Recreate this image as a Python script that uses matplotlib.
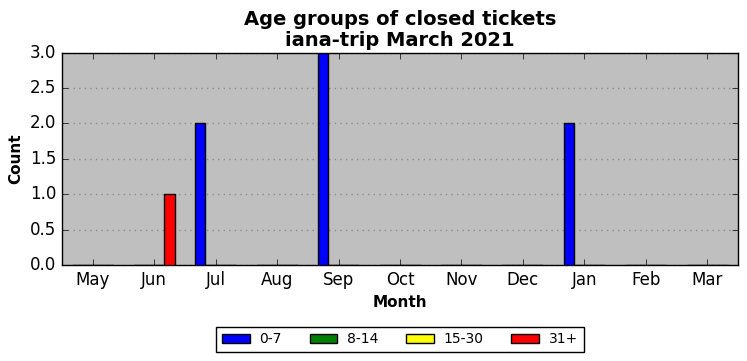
import numpy as np
import matplotlib
matplotlib.use("Agg")
import matplotlib.pyplot as plt

plt.style.use('classic')

months = ["May", "Jun", "Jul", "Aug", "Sep", "Oct", "Nov", "Dec", "Jan", "Feb", "Mar"]
groups = ["0-7", "8-14", "15-30", "31+"]
colors = ["blue", "green", "yellow", "red"]

age_0_7 = [0, 0, 2, 0, 3, 0, 0, 0, 2, 0, 0]
age_8_14 = [0, 0, 0, 0, 0, 0, 0, 0, 0, 0, 0]
age_15_30 = [0, 0, 0, 0, 0, 0, 0, 0, 0, 0, 0]
age_31 = [0, 1, 0, 0, 0, 0, 0, 0, 0, 0, 0]
series = [age_0_7, age_8_14, age_15_30, age_31]

fig = plt.figure(figsize=(7.47, 3.61), dpi=100, facecolor='white')
ax = fig.add_axes([0.083, 0.266, 0.905, 0.588])
ax.set_facecolor('#bfbfbf')

x = np.arange(len(months))
width = 1.0 / 6
offsets = [-0.25, -1.0 / 12, 1.0 / 12, 0.25]
for vals, off, col, lab in zip(series, offsets, colors, groups):
    ax.bar(x + off, vals, width, color=col, edgecolor='black', linewidth=1,
           label=lab, align='center', zorder=3)

ax.set_xlim(-0.5, 10.5)
ax.set_ylim(0, 3)
ax.set_xticks(x)
ax.set_xticklabels(months)
ax.set_yticks(np.arange(0, 3.01, 0.5))
ax.yaxis.grid(True, linestyle=':', color='#8c8c8c', linewidth=1, zorder=0)
ax.set_axisbelow(True)
ax.tick_params(labelsize=12)

ax.set_xlabel("Month", fontweight='bold', fontsize=11)
ax.set_ylabel("Count", fontweight='bold', fontsize=11)
ax.set_title("Age groups of closed tickets\niana-trip March 2021",
             fontweight='bold', fontsize=14, linespacing=1.1)

ax.legend(loc='upper center', bbox_to_anchor=(0.5, -0.29), ncol=4,
          fontsize=10, frameon=True, fancybox=False, borderaxespad=0,
          handlelength=2.0, handletextpad=0.7, columnspacing=2.0,
          borderpad=0.4, handleheight=0.6)

fig.savefig("out.png", dpi=100, facecolor='white')
